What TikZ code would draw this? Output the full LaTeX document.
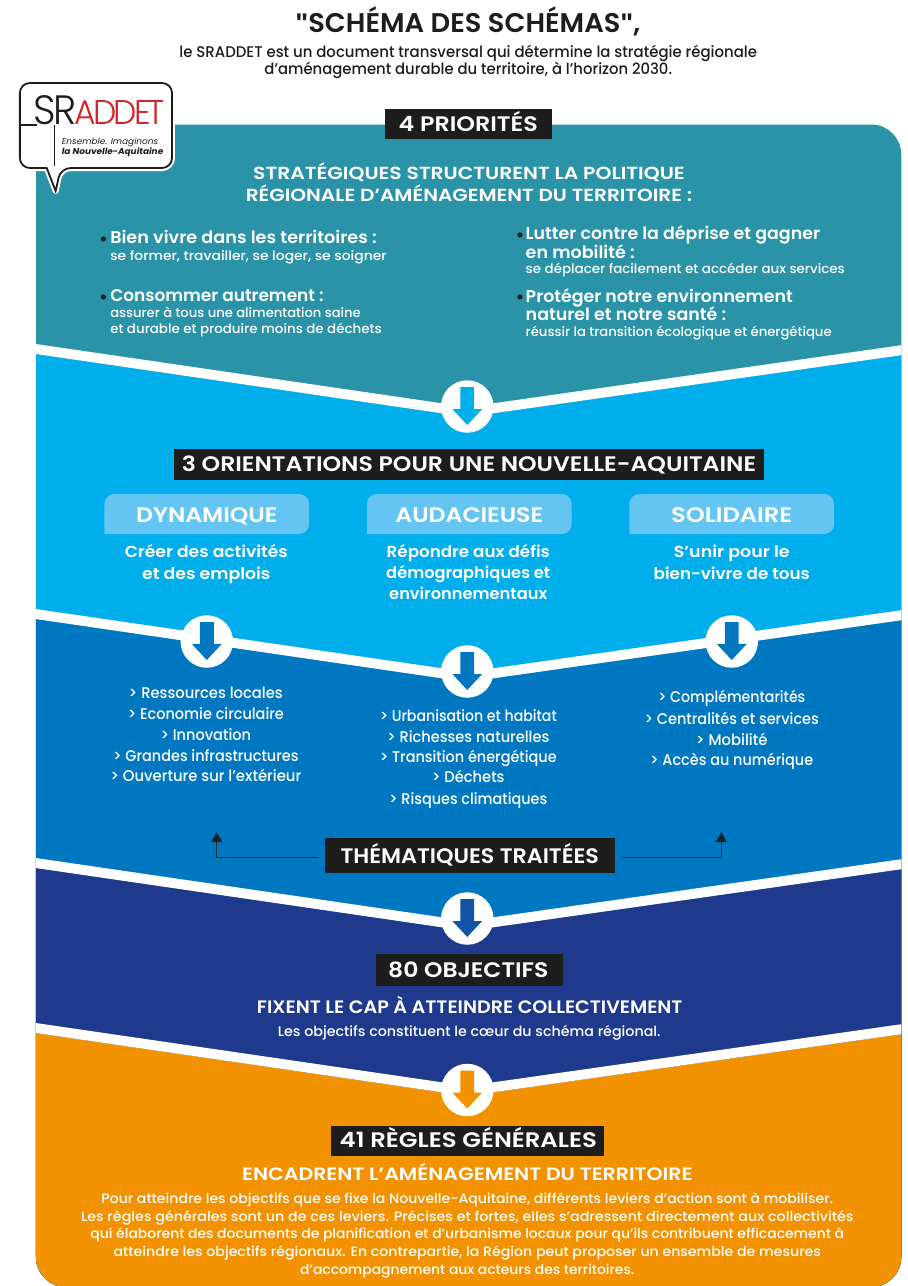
\documentclass[tikz,border=0pt]{standalone}
\usepackage{fontspec}
\usepackage{graphicx}
\setmainfont{Poppins Medium}[BoldFont={Poppins SemiBold},ItalicFont={Poppins Italic},BoldItalicFont={Poppins Bold Italic}]
\newfontfamily\quotefont{Liberation Sans}
\newfontfamily\logofont{Poppins Light}
\usetikzlibrary{arrows.meta}
\definecolor{teal1}{HTML}{2A93A8}
\definecolor{sky1}{HTML}{00AEEC}
\definecolor{blue1}{HTML}{0078C1}
\definecolor{navy1}{HTML}{1F398C}
\definecolor{orange1}{HTML}{F39200}
\definecolor{tab1}{HTML}{65C5F2}
\definecolor{ink1}{HTML}{1D1D1B}
\definecolor{logored}{HTML}{D2232A}
\newcommand{\fit}[2]{\resizebox{\dimexpr#1pt*9942/10000\relax}{\height}{#2}}
\newcommand{\vband}[2]{%
  \fill[#2] (36,#1+10) -- (470,#1+73) -- (915,#1+10) -- (915,1300) -- (36,1300) -- cycle;
  \fill[white] (36,#1) -- (470,#1+63) -- (915,#1) -- (915,#1+10) -- (470,#1+73) -- (36,#1+10) -- cycle;}
\newcommand{\darrow}[2]{%
  \fill[#2] ([shift={(-7,-19.5)}]#1.center) -- ([shift={(7,-19.5)}]#1.center) -- ([shift={(7,2.5)}]#1.center)
   -- ([shift={(15,2.5)}]#1.center) -- ([shift={(0,18.5)}]#1.center) -- ([shift={(-15,2.5)}]#1.center)
   -- ([shift={(-7,2.5)}]#1.center) -- cycle;}
\tikzset{
  tl/.style={font=\fontsize{#1}{#1}\selectfont,inner sep=0pt,text height=0.7*#1pt,text depth=0pt,text=white},
  tlb/.style={tl=#1,text=ink1},
  blackbox/.style={fill=ink1,inner sep=0pt},
  tabshape/.style={fill=tab1,rounded corners=10pt},
  roundel/.style={circle,fill=white,inner sep=0pt,minimum size=52.5pt},
  conn/.style={draw=ink1!85!blue1,line width=1.5pt,-{Triangle[length=10pt,width=11pt,fill=ink1]}},
  bubble/.style={draw=ink1,line width=1.8pt,fill=white,rounded corners=10pt},
  logoline/.style={draw=ink1,line width=1.2pt}
}
\begin{document}
\begin{tikzpicture}[x=0.9942pt,y=-1pt]
\useasboundingbox (0,0) rectangle (913.3,1286);
\fill[white] (0,0) rectangle (913.3,1286);
% panels
\begin{scope}
\clip[rounded corners=30pt] (36.2,124.5) rectangle (906.5,1287);
\fill[teal1] (36,120) rectangle (915,1290);
\vband{344}{sky1}
\vband{609}{blue1}
\vband{858}{navy1}
\vband{1023}{orange1}
\end{scope}
% title
\node[tlb=27] (title) at (470.6,23.5) {\fit{347}{{\quotefont\bfseries "}\bfseries SCHÉMA DES SCHÉMAS{\quotefont\bfseries "},}};
\node[tlb=15.5] (sub1) at (471,52) {\fit{581}{le SRADDET est un document transversal qui détermine la stratégie régionale}};
\node[tlb=15.5] (sub2) at (471,69) {\fit{410}{d'aménagement durable du territoire, à l'horizon 2030.}};
% logo
\draw[white,line width=6pt,rounded corners=10pt,line join=round] (47,168) -- (20,168) -- (20,83) -- (173,83) -- (173,168) -- (61,168) [sharp corners] -- (56,191) -- cycle;
\draw[bubble] (47,168) -- (20,168) -- (20,83) -- (173,83) -- (173,168) -- (61,168) [sharp corners] -- (56,191) -- cycle;
\node[tl=38,text=ink1,anchor=west] (logoSR) at (33,111) {\resizebox{44pt}{29pt}{\logofont\addfontfeature{LetterSpace=-4}SR}};
\node[tl=34,text=logored,anchor=west] (logoword) at (75,113) {\resizebox{90pt}{24pt}{\logofont\addfontfeature{LetterSpace=-9}ADDET}};
\coordinate (srL) at (21,125);
\coordinate (srM) at (37,125);
\coordinate (srA) at (55,125);
\coordinate (srB) at (55,166);
\draw[logoline] (srL) -- (srM);
\draw[logoline] (srA) -- (srB);
\node[tl=8.5,text=ink1,anchor=west] (logo1) at (62,142) {\fit{97}{\itshape Ensemble. Imaginons}};
\node[tl=8.5,text=ink1,anchor=west] (logo2) at (62,152) {\fit{102}{\bfseries\itshape la Nouvelle-Aquitaine}};
% priorities
\node[blackbox,minimum width=167pt,minimum height=30pt] (prioBox) at (471,124) {};
\node[tl=21] (prio) at (471,124) {\fit{140}{\bfseries 4 PRIORITÉS}};
\node[tl=17.5] (s1) at (471.7,173) {\fit{434}{\bfseries STRATÉGIQUES STRUCTURENT LA POLITIQUE}};
\node[tl=17.5] (s2) at (471.7,195) {\fit{449}{\bfseries RÉGIONALE D'AMÉNAGEMENT DU TERRITOIRE :}};
\fill[ink1] (104,239) circle (2.6pt) (104,297) circle (2.6pt) (523,235) circle (2.6pt) (523,297) circle (2.6pt);
\node[tl=17,anchor=west] (a1) at (110.7,238) {\fit{268}{\bfseries Bien vivre dans les territoires :}};
\node[tl=13,anchor=west] (a2) at (110.7,256) {\fit{278}{se former, travailler, se loger, se soigner}};
\node[tl=17,anchor=west] (b1) at (110.7,296) {\fit{214.5}{\bfseries Consommer autrement :}};
\node[tl=13,anchor=west] (b2) at (110.7,313) {\fit{252}{assurer à tous une alimentation saine}};
\node[tl=13,anchor=west] (b3) at (110.7,329) {\fit{273}{et durable et produire moins de déchets}};
\node[tl=17,anchor=west] (c1) at (528.6,234) {\fit{296}{\bfseries Lutter contre la déprise et gagner}};
\node[tl=17,anchor=west] (c2) at (528.6,253) {\fit{109.6}{\bfseries en mobilité :}};
\node[tl=13,anchor=west] (c3) at (528.6,269) {\fit{321}{se déplacer facilement et accéder aux services}};
\node[tl=17,anchor=west] (d1) at (528.6,297) {\fit{268.6}{\bfseries Protéger notre environnement}};
\node[tl=17,anchor=west] (d2) at (528.6,315) {\fit{201.6}{\bfseries naturel et notre santé :}};
\node[tl=13,anchor=west] (d3) at (528.6,332) {\fit{307.7}{réussir la transition écologique et énergétique}};
% roundels
\node[roundel] (r1) at (470,406.5) {};
\node[roundel] (r2a) at (208,641.5) {};
\node[roundel] (r2b) at (470,671.5) {};
\node[roundel] (r2c) at (736,641.5) {};
\node[roundel] (r3) at (470,918.5) {};
\node[roundel] (r4) at (470,1090) {};
\darrow{r1}{sky1}
\darrow{r2a}{blue1}
\darrow{r2b}{blue1}
\darrow{r2c}{blue1}
\darrow{r3}{blue1!45!navy1}
\darrow{r4}{orange1}
% orientations
\node[blackbox,minimum width=589.5pt,minimum height=31pt] (orBox) at (471.5,464.5) {};
\node[tl=21] (or) at (471.8,464.5) {\fit{577.5}{\bfseries 3 ORIENTATIONS POUR UNE NOUVELLE-AQUITAINE}};
\fill[tabshape] (105,534) -- (105,494) -- (311,494) -- (311,534) [sharp corners] -- cycle;
\fill[tabshape] (369,534) -- (369,494) -- (575,494) -- (575,534) [sharp corners] -- cycle;
\fill[tabshape] (633,534) -- (633,494) -- (839,494) -- (839,534) [sharp corners] -- cycle;
\node[tl=21] (t1) at (208,515) {\fit{142}{\bfseries DYNAMIQUE}};
\node[tl=21] (t2) at (472,515) {\fit{148.6}{\bfseries AUDACIEUSE}};
\node[tl=21] (t3) at (736,515) {\fit{121.8}{\bfseries SOLIDAIRE}};
\node[tl=16] (e1) at (207.5,552) {\fit{164}{\bfseries Créer des activités}};
\node[tl=16] (e2) at (207.5,574) {\fit{129}{\bfseries et des emplois}};
\node[tl=16] (f1) at (471,552) {\fit{164}{\bfseries Répondre aux défis}};
\node[tl=16] (f2) at (471,573) {\fit{165}{\bfseries démographiques et}};
\node[tl=16] (f3) at (471,594) {\fit{159}{\bfseries environnementaux}};
\node[tl=16] (g1) at (736,552) {\fit{116.5}{\bfseries S'unir pour le}};
\node[tl=16] (g2) at (736,574) {\fit{157}{\bfseries bien-vivre de tous}};
% lists
\node[tl=15.5] (l1) at (207,693) {\fit{155}{> Ressources locales}};
\node[tl=15.5] (l2) at (207,714) {\fit{157}{> Economie circulaire}};
\node[tl=15.5] (l3) at (207,735) {\fit{91}{> Innovation}};
\node[tl=15.5] (l4) at (207,756) {\fit{186.5}{> Grandes infrastructures}};
\node[tl=15.5] (l5) at (207,776) {\fit{192}{> Ouverture sur l'extérieur}};
\node[tl=15.5] (m1) at (471,716) {\fit{178}{> Urbanisation et habitat}};
\node[tl=15.5] (m2) at (471,737) {\fit{163}{> Richesses naturelles}};
\node[tl=15.5] (m3) at (471,757) {\fit{178}{> Transition énergétique}};
\node[tl=15.5] (m4) at (471,777) {\fit{73}{> Déchets}};
\node[tl=15.5] (m5) at (471,799) {\fit{159}{> Risques climatiques}};
\node[tl=15.5] (n1) at (736,697) {\fit{148}{> Complémentarités}};
\node[tl=15.5] (n2) at (736,719) {\fit{175.4}{> Centralités et services}};
\node[tl=15.5] (n3) at (736,740) {\fit{72}{> Mobilité}};
\node[tl=15.5] (n4) at (736,760) {\fit{164}{> Accès au numérique}};
% thematiques
\node[blackbox,minimum width=289.5pt,minimum height=35pt] (thBox) at (472.5,855.5) {};
\node[tl=21] (th) at (472.5,855.7) {\fit{260}{\bfseries THÉMATIQUES TRAITÉES}};
\coordinate (upL) at (218,832);
\coordinate (upR) at (725.5,832);
\draw[conn] ([xshift=-6.5pt,yshift=-2.2pt]thBox.west) -| (upL);
\draw[conn] ([xshift=6pt,yshift=-2.2pt]thBox.east) -| (upR);
% objectifs
\node[blackbox,minimum width=187pt,minimum height=32pt] (obBox) at (472,970) {};
\node[tl=21] (ob) at (471,970) {\fit{161}{\bfseries 80 OBJECTIFS}};
\node[tl=18] (o1) at (472.5,1007) {\fit{428}{\bfseries FIXENT LE CAP À ATTEINDRE COLLECTIVEMENT}};
\node[tl=14] (o2) at (472,1032) {\fit{385}{Les objectifs constituent le cœur du schéma régional.}};
% regles
\node[blackbox,minimum width=272.5pt,minimum height=30pt] (reBox) at (470,1141) {};
\node[tl=21] (re) at (471,1140) {\fit{258.7}{\bfseries 41 RÈGLES GÉNÉRALES}};
\node[tl=18] (r1t) at (470,1174) {\fit{453}{\bfseries ENCADRENT L'AMÉNAGEMENT DU TERRITOIRE}};
\node[tl=13.5] (p1) at (470,1199) {\fit{736}{Pour atteindre les objectifs que se fixe la Nouvelle-Aquitaine, différents leviers d'action sont à mobiliser.}};
\node[tl=13.5] (p2) at (470,1217) {\fit{777}{Les règles générales sont un de ces leviers. Précises et fortes, elles s'adressent directement aux collectivités}};
\node[tl=13.5] (p3) at (470,1234) {\fit{758}{qui élaborent des documents de planification et d'urbanisme locaux pour qu'ils contribuent efficacement à}};
\node[tl=13.5] (p4) at (470,1252) {\fit{711.5}{atteindre les objectifs régionaux. En contrepartie, la Région peut proposer un ensemble de mesures}};
\node[tl=13.5] (p5) at (470,1270) {\fit{336}{d'accompagnement aux acteurs des territoires.}};
\end{tikzpicture}
\end{document}
